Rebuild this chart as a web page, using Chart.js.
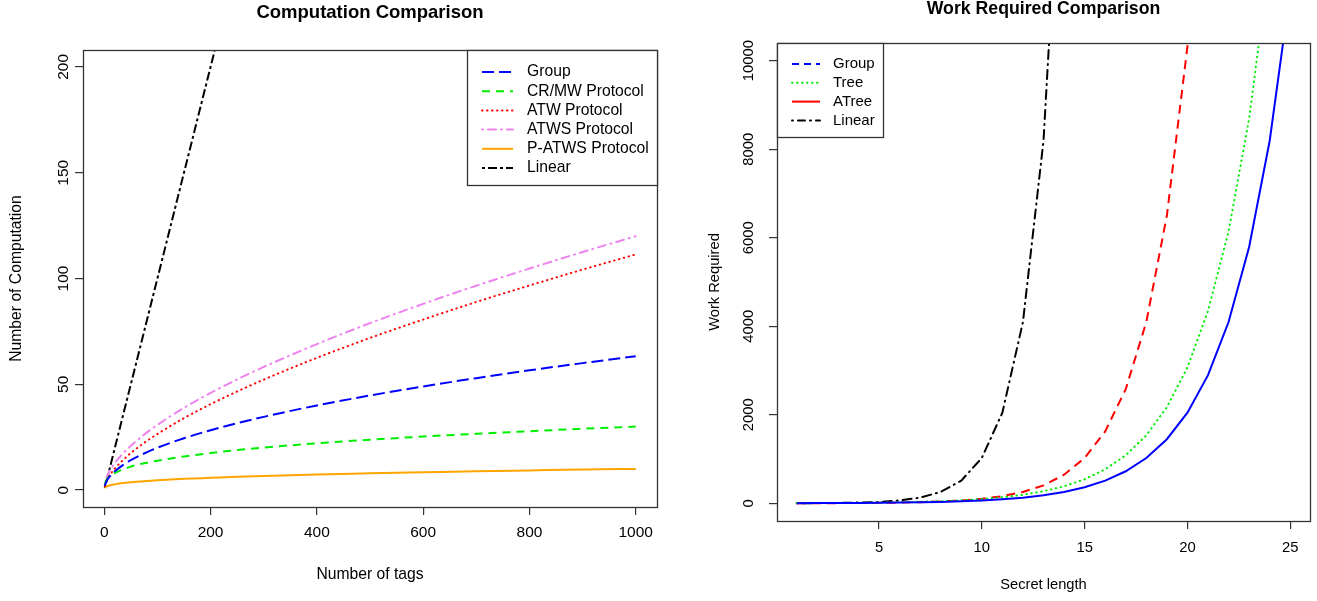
<!DOCTYPE html>
<html><head><meta charset="utf-8">
<script src="https://cdn.jsdelivr.net/npm/chart.js@4.4.1/dist/chart.umd.min.js"></script>
<style>
html,body{margin:0;padding:0;background:#fff;}
#wrap{position:relative;width:1317px;height:601px;overflow:hidden;background:#fff;}
#c1{position:absolute;left:0;top:0;width:680px;height:601px;}
#c2{position:absolute;left:680px;top:0;width:637px;height:601px;}
</style></head><body>
<div id="wrap"><canvas id="c1" width="680" height="601"></canvas><canvas id="c2" width="637" height="601"></canvas></div>
<script>
// ---------- Left chart data: Computation Comparison ----------
const tags = [1, 5, 10, 20, 35, 50, 75, 100, 150, 200, 250, 300, 400, 500, 600, 700, 800, 900, 1000];
const groupComp = [2, 4.5, 6.3, 8.9, 11.8, 14.1, 17.3, 20, 24.5, 28.3, 31.6, 34.6, 40, 44.7, 49, 52.9, 56.6, 60, 63.3];
const crmwComp  = [3, 5.1, 6.5, 8.1, 9.8, 11.1, 12.7, 13.9, 15.9, 17.5, 18.9, 20.1, 22.1, 23.8, 25.3, 26.6, 27.8, 29, 30];
const atwComp   = [2, 4.7, 6.9, 10.2, 14.1, 17.5, 22.3, 26.5, 34, 40.6, 46.6, 52.2, 62.5, 71.9, 80.6, 88.9, 96.7, 104.2, 111.4];
const atwsComp  = [3, 6.3, 9.0, 12.8, 17.2, 20.9, 26.2, 30.8, 38.9, 45.9, 52.3, 58.2, 69.0, 78.9, 88.0, 96.6, 104.7, 112.5, 120];
const patwsComp = [1, 1.7, 2.2, 2.7, 3.3, 3.7, 4.2, 4.6, 5.3, 5.8, 6.3, 6.7, 7.4, 7.9, 8.4, 8.9, 9.3, 9.7, 10];
const linearComp = [1, 5, 10, 20, 35, 50, 75, 100, 150, 200, 250, 300, 400, 500, 600, 700, 800, 900, 1000];
const leftXTicks = [0, 200, 400, 600, 800, 1000];
const leftYTicks = [0, 50, 100, 150, 200];

// ---------- Right chart data: Work Required Comparison ----------
const secretLen = [1,2,3,4,5,6,7,8,9,10,11,12,13,14,15,16,17,18,19,20,21,22,23,24,25];
const groupWork = [2.8, 4, 5.7, 8, 11, 16, 23, 32, 45, 64, 91, 128, 181, 256, 362, 512, 724, 1024, 1448, 2048, 2896, 4096, 5793, 8192, 11585];
const treeWork  = [4.2, 6, 8.5, 12, 17, 24, 34, 48, 68, 96, 136, 192, 272, 384, 543, 768, 1086, 1536, 2172, 3072, 4345, 6144, 8689, 12288, 17378];
const atreeWork = [1.6, 2.5, 4, 6.3, 10, 16, 25, 40, 64, 102, 161, 256, 406, 645, 1024, 1625, 2580, 4096, 6502, 10321, 16384, 26008, 41285, 65536, 104032];
const linearWork = [2, 4, 8, 16, 32, 64, 128, 256, 512, 1024, 2048, 4096, 8192, 16384, 32768, 65536, 131072, 262144, 524288, 1048576, 2097152, 4194304, 8388608, 16777216, 33554432];
const rightXTicks = [5, 10, 15, 20, 25];
const rightYTicks = [0, 2000, 4000, 6000, 8000, 10000];
const rightLegendLabels = ['Group', 'Tree', 'ATree', 'Linear'];

const FONT = "'Liberation Sans', Arial, Helvetica, sans-serif";
const xy = (xs, ys) => xs.map((x, i) => ({x: x, y: ys[i]}));

const rBox = {
  id: 'rBox',
  afterDatasetsDraw(chart, args, opts) {
    const ctx = chart.ctx, a = chart.chartArea;
    ctx.save();
    ctx.strokeStyle = '#333';
    ctx.lineWidth = 1.3;
    ctx.setLineDash([]);
    ctx.strokeRect(Math.round(a.left) + 0.5, Math.round(a.top) + 0.5, Math.round(a.right - a.left), Math.round(a.bottom - a.top));
    const L = opts.legend;
    if (L) {
      const x0 = Math.round(L.anchor === 'right' ? a.right - L.w : a.left);
      const y0 = Math.round(a.top);
      ctx.fillStyle = '#fff';
      ctx.fillRect(x0, y0, L.w, L.h);
      ctx.strokeStyle = '#333';
      ctx.lineWidth = 1.3;
      ctx.strokeRect(x0 + 0.5, y0 + 0.5, L.w, L.h);
      ctx.font = L.font;
      ctx.textBaseline = 'middle';
      ctx.textAlign = 'left';
      L.items.forEach((it, i) => {
        const y = y0 + L.first + i * L.gap;
        ctx.beginPath();
        ctx.setLineDash(it.dash || []);
        ctx.lineCap = it.cap || 'butt';
        ctx.strokeStyle = it.color;
        ctx.lineWidth = 2;
        ctx.moveTo(x0 + L.s0, y);
        ctx.lineTo(x0 + L.s1, y);
        ctx.stroke();
        ctx.setLineDash([]);
        ctx.fillStyle = '#000';
        ctx.fillText(it.label, x0 + L.tx, y);
      });
    }
    ctx.restore();
  }
};

function axisCommon(fontSize) {
  return {
    grid: {display: true, drawOnChartArea: false, drawTicks: true, tickLength: 8, color: '#333', lineWidth: 1.2},
    border: {display: false},
  };
}

// ---------- Left chart ----------
const leftDatasets = [
  {label: 'Group', data: xy(tags, groupComp), borderColor: '#0000FF', borderDash: [12, 5]},
  {label: 'CR/MW Protocol', data: xy(tags, crmwComp), borderColor: '#00EE00', borderDash: [8, 6]},
  {label: 'ATW Protocol', data: xy(tags, atwComp), borderColor: '#FF0000', borderDash: [0.5, 4.5], borderCapStyle: 'round'},
  {label: 'ATWS Protocol', data: xy(tags, atwsComp), borderColor: '#EE82EE', borderDash: [1, 5, 8, 5], borderCapStyle: 'round'},
  {label: 'P-ATWS Protocol', data: xy(tags, patwsComp), borderColor: '#FFA500', borderDash: []},
  {label: 'Linear', data: xy(tags, linearComp), borderColor: '#000000', borderDash: [3, 3, 9, 3]}
].map(d => Object.assign({borderWidth: 2, pointRadius: 0, fill: false, cubicInterpolationMode: 'monotone'}, d));

const LF = 15.5;
new Chart(document.getElementById('c1'), {
  type: 'line',
  data: {datasets: leftDatasets},
  options: {
    responsive: false, animation: false, events: [],
    layout: {padding: {left: 0, right: 23, top: 0, bottom: 0}},
    plugins: {
      legend: {display: false}, tooltip: {enabled: false},
      title: {display: true, text: 'Computation Comparison', fullSize: false, color: '#000',
              font: {family: FONT, size: 18.5, weight: 'bold', lineHeight: 1}, padding: {top: 3.75, bottom: 27.75}},
      rBox: {legend: {anchor: 'right', w: 190, h: 135, first: 22, gap: 19.2, s0: 15, s1: 46, tx: 60,
        font: '15.7px ' + FONT,
        items: leftDatasets.map(d => ({label: d.label, color: d.borderColor, dash: d.borderDash, cap: d.borderCapStyle}))}}
    },
    scales: {
      x: Object.assign(axisCommon(), {
        type: 'linear', min: -40, max: 1040,
        afterBuildTicks: s => { s.ticks = leftXTicks.map(v => ({value: v})); },
        afterFit: s => { s.height = 94; },
        ticks: {font: {family: FONT, size: LF}, color: '#000', padding: 8.7, maxRotation: 0, minRotation: 0, autoSkip: false, callback: v => String(v)},
        title: {display: true, text: 'Number of tags', color: '#000', font: {family: FONT, size: 15.7}, padding: {top: 0, bottom: 16.6}}
      }),
      y: Object.assign(axisCommon(), {
        type: 'linear', min: -8, max: 208,
        afterBuildTicks: s => { s.ticks = leftYTicks.map(v => ({value: v})); },
        afterFit: s => { s.width = 83; },
        ticks: {font: {family: FONT, size: LF}, color: '#000', padding: -2, minRotation: 90, maxRotation: 90, crossAlign: 'center', autoSkip: false, callback: v => String(v)},
        title: {display: true, text: 'Number of Computation', color: '#000', font: {family: FONT, size: 15.7}, padding: {top: 7.6, bottom: 0}}
      })
    }
  },
  plugins: [rBox]
});

// ---------- Right chart ----------
const rightDatasets = [
  {label: 'Group', data: xy(secretLen, groupWork), borderColor: '#0000FF', borderDash: []},
  {label: 'Tree', data: xy(secretLen, treeWork), borderColor: '#00EE00', borderDash: [0.5, 4.5], borderCapStyle: 'round'},
  {label: 'ATree', data: xy(secretLen, atreeWork), borderColor: '#FF0000', borderDash: [9, 6]},
  {label: 'Linear', data: xy(secretLen, linearWork), borderColor: '#000000', borderDash: [1, 5, 9, 5], borderCapStyle: 'round'}
].map(d => Object.assign({borderWidth: 2, pointRadius: 0, fill: false, tension: 0}, d));

const rightLegendStyle = [
  {color: '#0000FF', dash: [7, 5]},
  {color: '#00EE00', dash: [0.5, 4.5], cap: 'round'},
  {color: '#FF0000', dash: []},
  {color: '#000000', dash: [1, 5, 7, 5], cap: 'round'}
];

const RF = 14.8;
new Chart(document.getElementById('c2'), {
  type: 'line',
  data: {datasets: rightDatasets},
  options: {
    responsive: false, animation: false, events: [],
    layout: {padding: {left: 0, right: 7, top: 0, bottom: 0}},
    plugins: {
      legend: {display: false}, tooltip: {enabled: false},
      title: {display: true, text: 'Work Required Comparison', fullSize: false, color: '#000',
              font: {family: FONT, size: 17.7, weight: 'bold', lineHeight: 1}, padding: {top: 0, bottom: 25.3}},
      rBox: {legend: {anchor: 'left', w: 106, h: 94, first: 21, gap: 18.8, s0: 15, s1: 43, tx: 56,
        font: '15px ' + FONT,
        items: rightLegendLabels.map((l, i) => Object.assign({label: l}, rightLegendStyle[i]))}}
    },
    scales: {
      x: Object.assign(axisCommon(), {
        type: 'linear', min: 0.04, max: 25.96,
        afterBuildTicks: s => { s.ticks = rightXTicks.map(v => ({value: v})); },
        afterFit: s => { s.height = 80; },
        ticks: {font: {family: FONT, size: RF}, color: '#000', padding: 10, maxRotation: 0, minRotation: 0, autoSkip: false, callback: v => String(v)},
        title: {display: true, text: 'Secret length', color: '#000', font: {family: FONT, size: 14.7}, padding: {top: 0, bottom: 7.2}}
      }),
      y: Object.assign(axisCommon(), {
        type: 'linear', min: -400, max: 10400,
        afterBuildTicks: s => { s.ticks = rightYTicks.map(v => ({value: v})); },
        afterFit: s => { s.width = 97; },
        ticks: {font: {family: FONT, size: RF}, color: '#000', padding: -0.6, minRotation: 90, maxRotation: 90, crossAlign: 'center', autoSkip: false, callback: v => String(v)},
        title: {display: true, text: 'Work Required', color: '#000', font: {family: FONT, size: 14.7}, padding: {top: 26.2, bottom: 0}}
      })
    }
  },
  plugins: [rBox]
});
</script>
</body></html>
